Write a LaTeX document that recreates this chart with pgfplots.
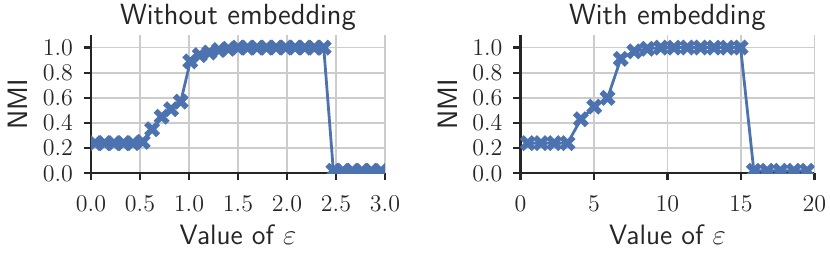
\documentclass[border=0pt]{standalone}
\usepackage{fontspec}
\usepackage{pgfplots}
\pgfplotsset{compat=1.18}
\definecolor{sbblue}{RGB}{76,114,176}
\definecolor{txt}{RGB}{38,38,38}
\definecolor{gridc}{RGB}{204,204,204}

\pgfdeclareplotmark{bigX}{%
  \pgftransformrotate{45}%
  \pgfpathmoveto{\pgfpoint{-0.3536\pgfplotmarksize}{-1.0607\pgfplotmarksize}}%
  \pgfpathlineto{\pgfpoint{0.3536\pgfplotmarksize}{-1.0607\pgfplotmarksize}}%
  \pgfpathlineto{\pgfpoint{0.3536\pgfplotmarksize}{-0.3536\pgfplotmarksize}}%
  \pgfpathlineto{\pgfpoint{1.0607\pgfplotmarksize}{-0.3536\pgfplotmarksize}}%
  \pgfpathlineto{\pgfpoint{1.0607\pgfplotmarksize}{0.3536\pgfplotmarksize}}%
  \pgfpathlineto{\pgfpoint{0.3536\pgfplotmarksize}{0.3536\pgfplotmarksize}}%
  \pgfpathlineto{\pgfpoint{0.3536\pgfplotmarksize}{1.0607\pgfplotmarksize}}%
  \pgfpathlineto{\pgfpoint{-0.3536\pgfplotmarksize}{1.0607\pgfplotmarksize}}%
  \pgfpathlineto{\pgfpoint{-0.3536\pgfplotmarksize}{0.3536\pgfplotmarksize}}%
  \pgfpathlineto{\pgfpoint{-1.0607\pgfplotmarksize}{0.3536\pgfplotmarksize}}%
  \pgfpathlineto{\pgfpoint{-1.0607\pgfplotmarksize}{-0.3536\pgfplotmarksize}}%
  \pgfpathlineto{\pgfpoint{-0.3536\pgfplotmarksize}{-0.3536\pgfplotmarksize}}%
  \pgfpathclose
  \pgfusepathqfill
}

\pgfplotsset{
  myax/.style={
    scale only axis, width=147pt, height=69.15pt,
    ymin=0, ymax=1.1, ytick={0,0.2,0.4,0.6,0.8,1.0},
    axis x line*=bottom, axis y line*=left,
    x axis line style={-, color=txt, line width=1.1pt},
    y axis line style={-, color=txt, line width=1.1pt},
    tick align=outside, major tick length=3.5pt,
    every tick/.style={color=txt, line width=1.1pt},
    grid=major, major grid style={color=gridc, line width=0.8pt},
    clip marker paths=true,
    tick label style={font=\fontsize{12.5}{14}\selectfont, color=txt},
    xticklabel style={yshift=-4.5pt},
    yticklabel style={xshift=-2pt, /pgf/number format/.cd, fixed, fixed zerofill, precision=1},
    title style={font=\sffamily\fontsize{14.6}{16}\selectfont, color=txt, at={(0.5,0.9855)}, anchor=base},
    label style={font=\sffamily\fontsize{14}{16}\selectfont, color=txt},
    xlabel style={at={(0.5,-0.5184)}, anchor=base},
    ylabel style={at={(-0.2483,0.5)}, anchor=center},
  },
  myplot/.style={sbblue, line width=1.4pt, mark=bigX, mark size=4pt, mark options={solid, fill=sbblue}},
}

\begin{document}
\begin{tikzpicture}
\path[use as bounding box] (0,0) rectangle (415pt,127.5pt);
\begin{axis}[myax, at={(45.5pt,40.85pt)}, anchor=south west,
  xmin=0, xmax=3, xtick={0,0.5,1.0,1.5,2.0,2.5,3.0},
  xticklabel style={/pgf/number format/.cd, fixed, fixed zerofill, precision=1},
  title={Without embedding}, xlabel={Value of $\varepsilon$}, ylabel={NMI}]
\addplot[myplot] table {
x y
0.040 0.24
0.137 0.24
0.235 0.24
0.332 0.24
0.429 0.24
0.527 0.25
0.624 0.35
0.721 0.45
0.818 0.51
0.916 0.57
1.013 0.89
1.110 0.94
1.208 0.96
1.305 0.98
1.402 0.99
1.500 1.00
1.597 1.00
1.694 1.00
1.791 1.00
1.889 1.00
1.986 1.00
2.083 1.00
2.181 1.00
2.278 1.00
2.375 1.00
2.473 0.02
2.570 0.02
2.667 0.02
2.764 0.02
2.862 0.02
2.959 0.02
};
\end{axis}
\begin{axis}[myax, at={(260.2pt,40.85pt)}, anchor=south west,
  xmin=0, xmax=20, xtick={0,5,10,15,20},
  title={With embedding}, xlabel={Value of $\varepsilon$}, ylabel={NMI}]
\addplot[myplot] table {
x y
0.50 0.24
1.40 0.24
2.31 0.24
3.21 0.24
4.12 0.43
5.02 0.53
5.93 0.60
6.83 0.91
7.74 0.97
8.64 0.99
9.55 1.00
10.45 1.00
11.36 1.00
12.26 1.00
13.17 1.00
14.07 1.00
14.98 1.00
15.88 0.02
16.79 0.02
17.69 0.02
18.60 0.02
19.50 0.02
};
\end{axis}
\end{tikzpicture}
\end{document}
